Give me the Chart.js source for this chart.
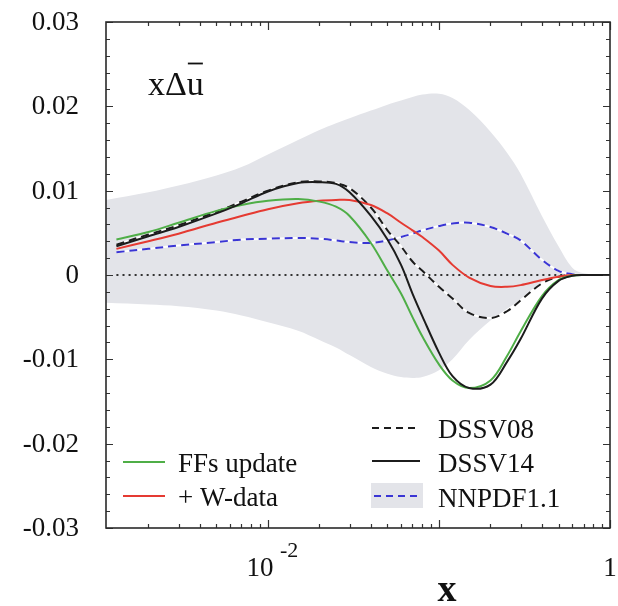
<!DOCTYPE html>
<html>
<head>
<meta charset="utf-8">
<script src="https://cdn.jsdelivr.net/npm/chart.js@4/dist/chart.umd.min.js"></script>
<style>
  html, body { margin: 0; padding: 0; background: #fff; }
  canvas { display: block; }
</style>
</head>
<body>
<canvas id="chart" width="618" height="606"></canvas>
<script>
// x grid shared by the curves (log x)
const xGrid = [0.0013, 0.002, 0.003, 0.005, 0.007, 0.01, 0.015, 0.02, 0.025, 0.03, 0.04, 0.05, 0.06, 0.07, 0.08, 0.1, 0.12, 0.15, 0.2, 0.25, 0.3, 0.4, 0.5, 0.6, 0.7, 1.0]
const xBand = [0.00113, 0.002, 0.003, 0.005, 0.007, 0.01, 0.015, 0.02, 0.025, 0.03, 0.04, 0.05, 0.06, 0.07, 0.08, 0.1, 0.12, 0.15, 0.2, 0.25, 0.3, 0.4, 0.5, 0.6, 0.7, 1.0]

const ffsUpdate = [0.0042, 0.0051, 0.0062, 0.0076, 0.0083, 0.0088, 0.0090, 0.0087, 0.0081, 0.0070, 0.0038, 0.0005, -0.0022, -0.0050, -0.0073, -0.0106, -0.0125, -0.0134, -0.0125, -0.0096, -0.0067, -0.0025, -0.0006, -0.0001, 0, 0]
const wData = [0.0031, 0.0040, 0.0049, 0.0062, 0.0070, 0.0078, 0.0085, 0.0088, 0.0089, 0.0089, 0.0083, 0.0073, 0.0062, 0.0053, 0.0045, 0.0029, 0.0012, -0.0003, -0.0013, -0.0014, -0.0012, -0.0006, -0.0002, 0, 0, 0]
const dssv08 = [0.0036, 0.0048, 0.0059, 0.0075, 0.0087, 0.0100, 0.0110, 0.0111, 0.0109, 0.0103, 0.0080, 0.0053, 0.0034, 0.0016, 0.0005, -0.0014, -0.0028, -0.0045, -0.0051, -0.0043, -0.0030, -0.0010, -0.0002, 0, 0, 0]
const dssv14 = [0.0034, 0.0046, 0.0057, 0.0073, 0.0085, 0.0099, 0.0109, 0.0110, 0.0108, 0.0098, 0.0070, 0.0042, 0.0012, -0.0022, -0.0049, -0.0092, -0.0120, -0.0134, -0.0130, -0.0103, -0.0076, -0.0028, -0.0007, -0.0001, 0, 0]
const nnpdf = [0.0027, 0.0031, 0.0035, 0.0039, 0.0042, 0.0043, 0.0044, 0.0043, 0.0041, 0.0039, 0.0038, 0.0041, 0.0045, 0.0049, 0.0053, 0.0058, 0.0061, 0.0062, 0.0057, 0.0049, 0.0041, 0.0018, 0.0005, 0.0001, 0, 0]
const nnpdfHigh = [0.0089, 0.0098, 0.0106, 0.0118, 0.0128, 0.0143, 0.0160, 0.0172, 0.0180, 0.0186, 0.0195, 0.0202, 0.0207, 0.0211, 0.0214, 0.0215, 0.0210, 0.0196, 0.0170, 0.0145, 0.0120, 0.0070, 0.0034, 0.0009, 0.0002, 0]
const nnpdfLow = [-0.0033, -0.0035, -0.0037, -0.0042, -0.0048, -0.0056, -0.0066, -0.0077, -0.0086, -0.0095, -0.0109, -0.0117, -0.0121, -0.0122, -0.0121, -0.0113, -0.0100, -0.0077, -0.0054, -0.0040, -0.0029, -0.0010, -0.0002, 0, 0, 0]

const yTickLabels = ['0.03', '0.02', '0.01', '0', '-0.01', '-0.02', '-0.03']
const yTickValues = [0.03, 0.02, 0.01, 0, -0.01, -0.02, -0.03]
const xMajorTicks = [0.01, 0.1, 1]

const SERIF = '"Liberation Serif", "DejaVu Serif", serif'
const GREEN = '#4fae47'
const RED = '#e53a32'
const BLUE = '#3a35d4'
const BLACK = '#1c1c1c'
const BAND = '#e3e4e9'

const pts = (xs, ys) => xs.map((x, i) => ({ x: x, y: ys[i] }))

function line(data, color, dash, width) {
  return {
    data: data,
    borderColor: color,
    borderWidth: width || 2,
    borderDash: dash || [],
    pointRadius: 0,
    fill: false,
    tension: 0.35
  }
}

// frame, ticks, labels, legend
const decorations = {
  id: 'decorations',
  afterDraw(chart) {
    const ctx = chart.ctx
    const a = chart.chartArea
    const xs = chart.scales.x
    const ys = chart.scales.y
    ctx.save()

    // y ticks (inward, both sides)
    ctx.strokeStyle = '#333'
    ctx.lineWidth = 1.2
    for (let k = -15; k <= 15; k++) {
      const py = Math.round(ys.getPixelForValue(k * 0.002)) + 0.5
      const len = k % 5 === 0 ? 7 : 4
      ctx.beginPath()
      ctx.moveTo(a.left, py); ctx.lineTo(a.left + len, py)
      ctx.moveTo(a.right, py); ctx.lineTo(a.right - len, py)
      ctx.stroke()
    }

    // x ticks (inward, top and bottom)
    const xTicks = []
    for (let d = -3; d <= 0; d++) {
      for (let m = 1; m <= 9; m++) {
        const v = m * Math.pow(10, d)
        if (v >= xs.min && v <= xs.max) xTicks.push({ v: v, major: m === 1 })
      }
    }
    xTicks.forEach(t => {
      const px = Math.round(xs.getPixelForValue(t.v)) + 0.5
      const len = t.major ? 8 : 4
      ctx.beginPath()
      ctx.moveTo(px, a.bottom); ctx.lineTo(px, a.bottom - len)
      ctx.moveTo(px, a.top); ctx.lineTo(px, a.top + len)
      ctx.stroke()
    })

    // frame
    ctx.lineWidth = 1.6
    ctx.strokeStyle = '#2a2a2a'
    ctx.strokeRect(a.left, a.top, a.right - a.left, a.bottom - a.top)

    // y tick labels
    ctx.fillStyle = '#111'
    ctx.font = '27px ' + SERIF
    ctx.textAlign = 'right'
    ctx.textBaseline = 'middle'
    yTickValues.forEach((v, i) => {
      ctx.fillText(yTickLabels[i], 79, ys.getPixelForValue(v) + 1)
    })

    // x tick labels
    ctx.textBaseline = 'alphabetic'
    ctx.textAlign = 'center'
    const p2 = xs.getPixelForValue(xMajorTicks[0])
    ctx.fillText('10', p2 - 8, 576)
    ctx.font = '22px ' + SERIF
    ctx.textAlign = 'left'
    ctx.fillText('-2', p2 + 12, 557)
    ctx.font = '27px ' + SERIF
    ctx.textAlign = 'center'
    ctx.fillText('1', xs.getPixelForValue(xMajorTicks[2]), 576)

    // axis title
    ctx.font = 'bold 38px ' + SERIF
    ctx.fillText('x', 447, 601)

    // panel label x Delta u-bar
    ctx.font = '34px ' + SERIF
    ctx.textAlign = 'left'
    const head = 'xΔ'
    const lx = 148
    ctx.fillText(head + 'u', lx, 95)
    const wHead = ctx.measureText(head).width
    const wU = ctx.measureText('u').width
    ctx.lineWidth = 1.8
    ctx.strokeStyle = '#111'
    ctx.beginPath()
    ctx.moveTo(lx + wHead + 1, 63.5)
    ctx.lineTo(lx + wHead + wU - 1, 63.5)
    ctx.stroke()

    // legends
    ctx.font = '27px ' + SERIF
    ctx.textBaseline = 'alphabetic'
    const entry = (x0, x1, y, color, dash, text, tx, base) => {
      ctx.strokeStyle = color
      ctx.lineWidth = 2
      ctx.setLineDash(dash)
      ctx.beginPath()
      ctx.moveTo(x0, y); ctx.lineTo(x1, y)
      ctx.stroke()
      ctx.setLineDash([])
      ctx.fillStyle = '#111'
      ctx.fillText(text, tx, base)
    }
    entry(123, 165, 462, GREEN, [], 'FFs update', 178, 472)
    entry(123, 165, 496, RED, [], '+ W-data', 178, 506)
    entry(372, 420, 428, BLACK, [7, 5], 'DSSV08', 438, 438)
    entry(372, 420, 461, BLACK, [], 'DSSV14', 438, 472)
    ctx.fillStyle = BAND
    ctx.fillRect(371, 483, 52, 25)
    entry(374, 420, 496, BLUE, [7, 5], 'NNPDF1.1', 438, 507)

    ctx.restore()
  }
}

new Chart(document.getElementById('chart'), {
  type: 'line',
  data: {
    datasets: [
      line(pts(xGrid, dssv14), BLACK),
      line(pts(xGrid, ffsUpdate), GREEN),
      line(pts(xGrid, wData), RED),
      line(pts(xGrid, dssv08), BLACK, [8, 5]),
      line(pts(xGrid, dssv08), '#ffffff'),
      line(pts(xGrid, nnpdf), BLUE, [8, 5]),
      line(pts(xGrid, nnpdf), '#ffffff'),
      line(pts([xGrid[0], 1], [0, 0]), '#333', [2, 4], 2),
      {
        data: pts(xBand, nnpdfHigh),
        borderWidth: 0,
        pointRadius: 0,
        backgroundColor: BAND,
        fill: '+1',
        tension: 0.35
      },
      {
        data: pts(xBand, nnpdfLow),
        borderWidth: 0,
        pointRadius: 0,
        fill: false,
        tension: 0.35
      }
    ]
  },
  options: {
    responsive: false,
    animation: false,
    layout: { padding: { left: 106, top: 22, right: 8, bottom: 78 } },
    plugins: {
      legend: { display: false },
      tooltip: { enabled: false },
      filler: { drawTime: 'beforeDatasetsDraw' }
    },
    scales: {
      x: { type: 'logarithmic', min: 0.00113, max: 1, display: false },
      y: { type: 'linear', min: -0.03, max: 0.03, display: false }
    }
  },
  plugins: [decorations]
})
</script>
</body>
</html>
